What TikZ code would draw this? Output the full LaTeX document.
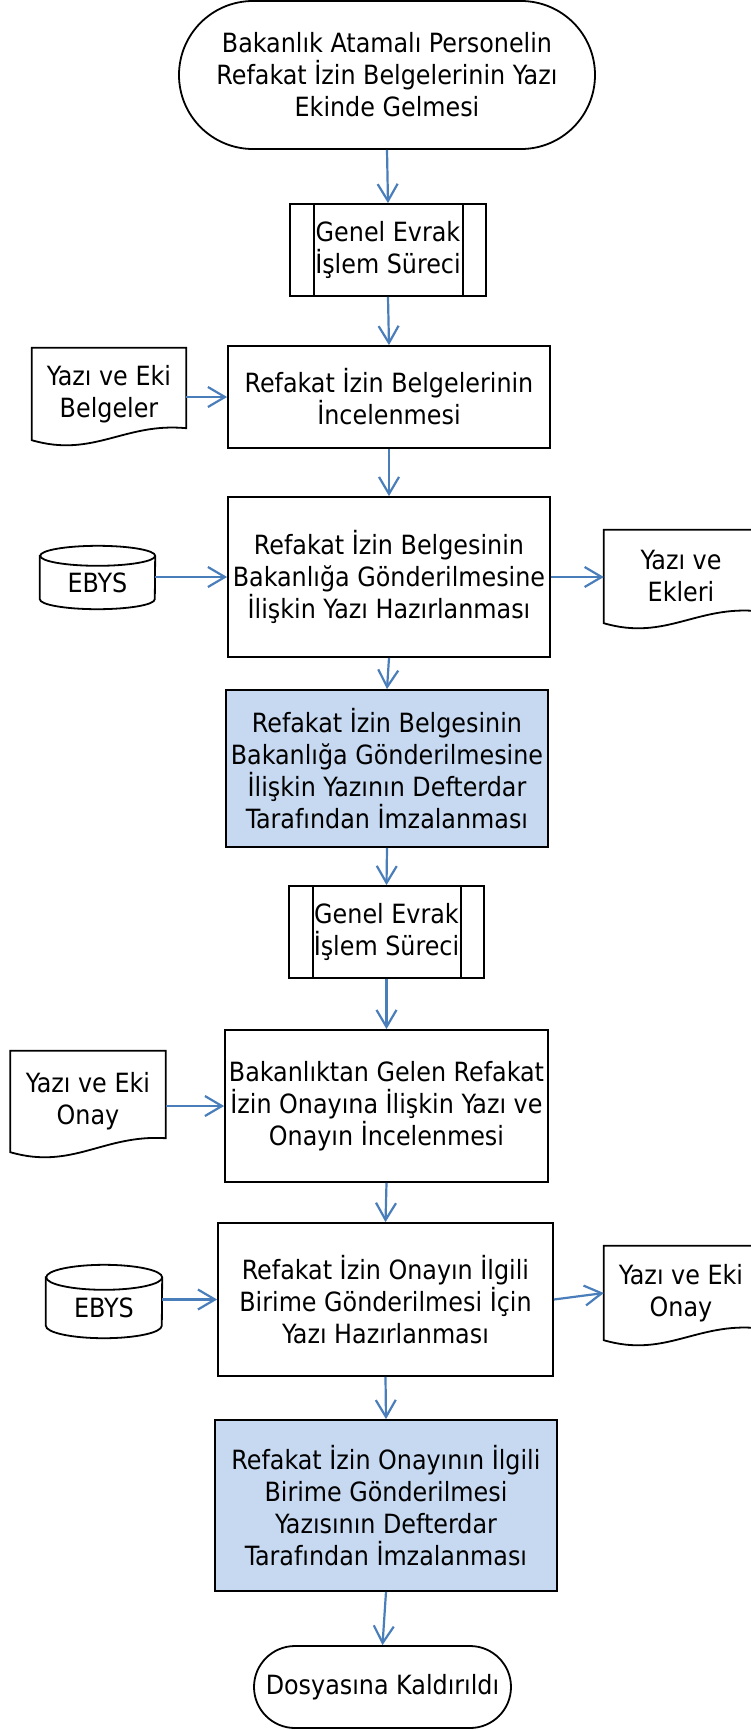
\documentclass[tikz,border=0pt]{standalone}
\usepackage{fontspec}
\setmainfont{DejaVu Sans Condensed}
\usetikzlibrary{arrows.meta,calc}
\definecolor{arrowblue}{HTML}{4A7EBB}
\definecolor{fillblue}{HTML}{C6D9F1}
\newcommand{\docoutline}[2]{% #1 node name, #2 rise of right bottom
  \draw[shapeline] (#1.south west) -- (#1.north west) -- (#1.north east) -- ([yshift=#2]#1.south east)
    .. controls ($(#1.south west)!0.6!(#1.south east)+(0pt,18pt)$) and ($(#1.south west)!0.4!(#1.south east)+(0pt,-18pt)$) .. (#1.south west) -- cycle;}
\newcommand{\cylout}[3]{% #1 node name, #2 y radius, #3 x radius
  \draw[shapeline] (#1.north west) -- ([yshift=#2]#1.south west)
    arc[start angle=180, end angle=360, x radius=#3, y radius=#2]
    -- (#1.north east) arc[start angle=0, end angle=180, x radius=#3, y radius=#2] -- cycle;
  \draw[shapeline] (#1.north east) arc[start angle=0, end angle=-180, x radius=#3, y radius=#2];}
\newcommand{\predef}[1]{%
  \draw[shapeline] ([xshift=25pt]#1.north west) -- ([xshift=25pt]#1.south west);
  \draw[shapeline] ([xshift=-24pt]#1.north east) -- ([xshift=-24pt]#1.south east);}
\begin{document}
\begin{tikzpicture}[x=1pt,y=-1pt,
  every node/.style={font=\fontsize{26.5}{32}\selectfont, align=center, inner sep=0pt},
  shapeline/.style={draw=black, line width=1.8pt},
  procbox/.style={shapeline, rectangle},
  bluebox/.style={procbox, fill=fillblue},
  flow/.style={draw=arrowblue, line width=2.2pt, -{Straight Barb[length=17pt,width=20pt,line width=2.2pt]}},
]
\useasboundingbox (0,0) rectangle (750,1730);

% main column
\node[procbox, rounded corners=74pt, minimum width=416pt, minimum height=148pt] (start) at (387,75)
  {Bakanlık Atamalı Personelin\\Refakat İzin Belgelerinin Yazı\\Ekinde Gelmesi};
\node[procbox, minimum width=196pt, minimum height=92pt] (gen1) at (388,250) {Genel Evrak\\İşlem Süreci};
\predef{gen1}
\node[procbox, minimum width=322pt, minimum height=102pt] (b1) at (389,397)
  {Refakat İzin Belgelerinin\\İncelenmesi};
\node[procbox, minimum width=322pt, minimum height=160pt] (b2) at (389,577)
  {Refakat İzin Belgesinin\\Bakanlığa Gönderilmesine\\İlişkin Yazı Hazırlanması};
\node[bluebox, minimum width=322pt, minimum height=157pt] (s1) at (387,768.5)
  {Refakat İzin Belgesinin\\Bakanlığa Gönderilmesine\\İlişkin Yazının Defterdar\\Tarafından İmzalanması};
\node[procbox, minimum width=195pt, minimum height=92pt] (gen2) at (386.5,932) {Genel Evrak\\İşlem Süreci};
\predef{gen2}
\node[procbox, minimum width=323pt, minimum height=152pt] (b3) at (386.5,1106)
  {Bakanlıktan Gelen Refakat\\İzin Onayına İlişkin Yazı ve\\Onayın İncelenmesi};
\node[procbox, minimum width=335pt, minimum height=153pt] (b4) at (385.5,1299.5)
  {Refakat İzin Onayın İlgili\\Birime Gönderilmesi İçin\\Yazı Hazırlanması};
\node[bluebox, minimum width=342pt, minimum height=171pt] (s2) at (386,1505.5)
  {Refakat İzin Onayının İlgili\\Birime Gönderilmesi\\Yazısının Defterdar\\Tarafından İmzalanması};
\node[procbox, rounded corners=41pt, minimum width=257pt, minimum height=82pt] (end) at (382.5,1687)
  {Dosyasına Kaldırıldı};

% side documents
\node[minimum width=154pt, minimum height=92pt] (d1) at (109,394) {Yazı ve Eki\\Belgeler};
\docoutline{d1}{12pt}
\node[minimum width=154pt, minimum height=93pt] (d2) at (681,576.5) {Yazı ve\\Ekleri};
\docoutline{d2}{12pt}
\node[minimum width=155pt, minimum height=101pt] (d3) at (88,1101.5) {Yazı ve Eki\\Onay};
\docoutline{d3}{14pt}
\node[minimum width=154pt, minimum height=94pt] (d4) at (681,1293) {Yazı ve Eki\\Onay};
\docoutline{d4}{12pt}

% databases
\node[minimum width=115pt, minimum height=53pt] (e1) at (97.5,582.5) {EBYS};
\cylout{e1}{10pt}{57.5pt}
\node[minimum width=116pt, minimum height=60.5pt] (e2) at (104,1307.75) {EBYS};
\cylout{e2}{12.5pt}{58pt}

% connectors
\draw[flow] (start.south) -- (gen1.north);
\draw[flow] (gen1.south) -- (b1.north);
\draw[flow] (b1.south) -- (b2.north);
\draw[flow] (b2.south) -- (s1.north);
\draw[flow] (s1.south) -- (gen2.north);
\draw[flow] (gen2.south) -- (b3.north);
\draw[flow] (b3.south) -- (b4.north);
\draw[flow] (b4.south) -- (s2.north);
\draw[flow] (s2.south) -- (end.north);

\draw[flow] (d1.east |- b1.west) -- (b1.west);
\draw[flow] (e1.east |- b2.west) -- (b2.west);
\draw[flow] (b2.east) -- (b2.east -| d2.west);
\draw[flow] (d3.east |- b3.west) -- (b3.west);
\draw[flow] (e2.east |- b4.west) -- (b4.west);
\draw[flow] (b4.east) -- (d4.west);
\end{tikzpicture}
\end{document}
